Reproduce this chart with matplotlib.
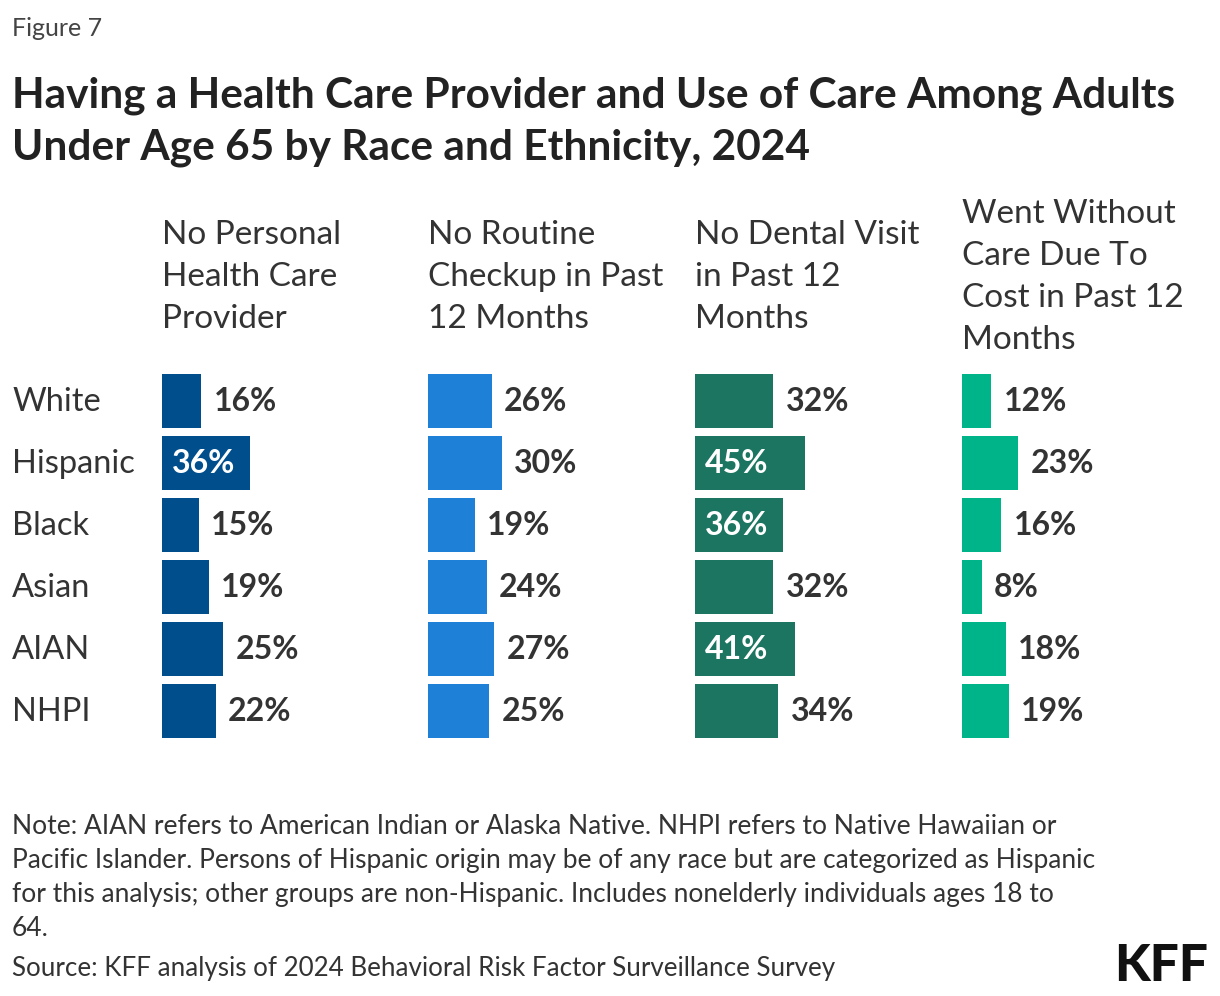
import matplotlib
matplotlib.use("Agg")
import matplotlib.pyplot as plt

plt.rcParams["font.family"] = ["Lato", "DejaVu Sans"]

# -----------------------------------------------------
# DATA
# -----------------------------------------------------

groups = ["White", "Hispanic", "Black", "Asian", "AIAN", "NHPI"]

headers = [
    "No Personal\nHealth Care\nProvider",
    "No Routine\nCheckup in Past\n12 Months",
    "No Dental Visit\nin Past 12\nMonths",
    "Went Without\nCare Due To\nCost in Past 12\nMonths",
]

no_provider = [16, 36, 15, 19, 25, 22]
no_checkup = [26, 30, 19, 24, 27, 25]
no_dental = [32, 45, 36, 32, 41, 34]
cost_barrier = [12, 23, 16, 8, 18, 19]

series = [no_provider, no_checkup, no_dental, cost_barrier]
colors = ["#004E8C", "#1E80D7", "#1C7561", "#00B48A"]

title = ("Having a Health Care Provider and Use of Care Among Adults\n"
         "Under Age 65 by Race and Ethnicity, 2024")
note = ("Note: AIAN refers to American Indian or Alaska Native. NHPI refers to Native Hawaiian or\n"
        "Pacific Islander. Persons of Hispanic origin may be of any race but are categorized as Hispanic\n"
        "for this analysis; other groups are non-Hispanic. Includes nonelderly individuals ages 18 to\n"
        "64.")
source = "Source: KFF analysis of 2024 Behavioral Risk Factor Surveillance Survey"

# -----------------------------------------------------
# LAYOUT (pixel based)
# -----------------------------------------------------

W, H = 1220, 996
fig = plt.figure(figsize=(W / 100, H / 100), dpi=100)

panel_x = [162, 428, 695, 962]
panel_w = 250
px_per_pct = 2.45
top_px, bottom_px = 370, 742

text_dark = "#333333"

fig.text(12 / W, 1 - 28 / H, "Figure 7", fontsize=18, color="#444444", va="center")
fig.text(12 / W, 1 - 76 / H, title, fontsize=30.5, fontweight="bold", color="#222222",
         va="top", linespacing=1.45)

for i, vals in enumerate(series):
    ax = fig.add_axes([panel_x[i] / W, 1 - bottom_px / H,
                       panel_w / W, (bottom_px - top_px) / H])
    ax.barh(range(len(groups)), vals, height=0.87, color=colors[i])
    ax.set_xlim(0, panel_w / px_per_pct)
    ax.set_ylim(len(groups) - 0.5, -0.5)
    ax.axis("off")
    for j, v in enumerate(vals):
        if v >= 35:
            ax.text(4, j, f"{v}%", color="white", fontsize=23, fontweight="bold",
                    va="center", ha="left")
        else:
            ax.text(v + 5, j, f"{v}%", color=text_dark, fontsize=23, fontweight="bold",
                    va="center", ha="left")
    fig.text(panel_x[i] / W, 1 - 277 / H, headers[i], fontsize=24, color="#333333",
             va="center", ha="left", linespacing=1.5)

for j, g in enumerate(groups):
    y = top_px + 32 + 62 * j
    fig.text(12 / W, 1 - y / H, g, fontsize=23.5, color="#333333", va="center")

fig.text(12 / W, 1 - 814 / H, note, fontsize=19, color="#333333", va="top", linespacing=1.45)
fig.text(12 / W, 1 - 968 / H, source, fontsize=18.7, color="#333333", va="center")
fig.text(1208 / W, 1 - 966 / H, "KFF", fontsize=37, fontweight="black", color="#111111",
         va="center", ha="right")

fig.savefig("out.png", dpi=100, facecolor="white")
